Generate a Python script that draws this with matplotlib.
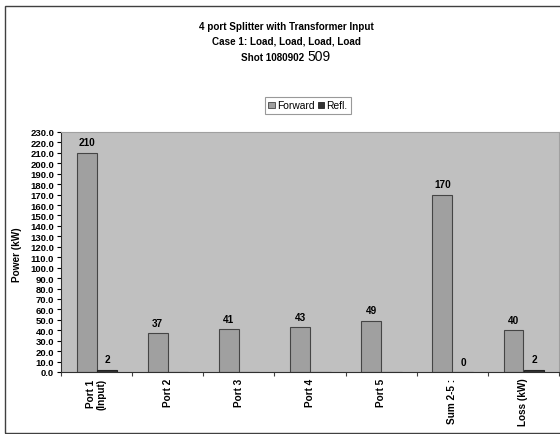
import numpy as np
import matplotlib
matplotlib.use("Agg")
import matplotlib.pyplot as plt
from matplotlib.patches import Rectangle, Patch

plt.rcParams['font.family'] = ['Liberation Sans', 'DejaVu Sans']

categories = ["Port 1\n(Input)", "Port 2", "Port 3", "Port 4", "Port 5", "Sum 2-5 :", "Loss (kW)"]
forward = [210, 37, 41, 43, 49, 170, 40]
refl = [2, np.nan, np.nan, np.nan, np.nan, 0, 2]

W, H = 560, 435
fig = plt.figure(figsize=(W / 100, H / 100), dpi=100)
fig.patch.set_facecolor("white")

# outer chart frame
fig.add_artist(Rectangle((5 / W, 1 / H), 1.2, 427 / H, transform=fig.transFigure,
                         fill=False, edgecolor="#404040", linewidth=1.0))

ax = fig.add_axes([61 / W, 1 - 373 / H, 498 / W, 240 / H])
ax.set_facecolor("#C0C0C0")

x = np.arange(len(categories))
w = 0.28
off_f, off_r = -0.14, 0.15
ax.bar(x + off_f, forward, width=w, color="#A0A0A0", edgecolor="#454545", linewidth=0.8,
       label="Forward", zorder=2)
ax.bar(x + off_r, np.nan_to_num(refl), width=w, color="#333333", edgecolor="#222222",
       linewidth=0.8, label="Refl.", zorder=2)

for xi, v in zip(x, forward):
    ax.annotate(f"{v:g}", (xi + off_f, v), xytext=(0, 7.5), textcoords="offset points",
                ha="center", va="center", fontsize=7.2, fontweight="bold")
for xi, v in zip(x, refl):
    if not np.isnan(v):
        ax.annotate(f"{v:g}", (xi + off_r, v), xytext=(0, 7.5), textcoords="offset points",
                    ha="center", va="center", fontsize=7.2, fontweight="bold")

ax.set_xlim(-0.5, len(categories) - 0.5)
ax.set_ylim(0, 230)
yt = np.arange(0, 231, 10)
ax.set_yticks(yt)
ax.set_yticklabels([f"{t:.1f}" for t in yt], fontsize=6.8, fontweight="bold")
ax.tick_params(axis="y", direction="out", length=3, width=0.8, pad=2)

ax.set_xticks(np.arange(-0.5, len(categories), 1.0))
ax.set_xticklabels([])
ax.tick_params(axis="x", which="major", direction="out", length=3, width=0.8, color="#404040")
ax.set_xticks(x, minor=True)
ax.set_xticklabels(categories, minor=True, rotation=90, fontsize=7.2, fontweight="bold",
                   va="top", ha="center", linespacing=1.1)
ax.tick_params(axis="x", which="minor", length=0, pad=4)

ax.set_ylabel("Power (kW)", fontsize=7.2, fontweight="bold")
ax.yaxis.set_label_coords(22 / W, 1 - 255 / H, transform=fig.transFigure)

for side in ("top", "right"):
    ax.spines[side].set_color("#A0A0A0")
for side in ("left", "bottom"):
    ax.spines[side].set_color("#303030")
    ax.spines[side].set_linewidth(0.8)

# titles
cx = 286 / W
fig.text(cx, 1 - 27 / H, "4 port Splitter with Transformer Input", ha="center", va="center",
         fontsize=7.1, fontweight="bold")
fig.text(cx, 1 - 42 / H, "Case 1: Load, Load, Load, Load", ha="center", va="center",
         fontsize=7.1, fontweight="bold")
fig.text(307 / W, 1 - 58 / H, "Shot 1080902 ", ha="right", va="center",
         fontsize=7.1, fontweight="bold")
fig.text(307 / W, 1 - 57 / H, "509", ha="left", va="center", fontsize=10)

handles = [Patch(facecolor="#A0A0A0", edgecolor="#454545", linewidth=0.6),
           Patch(facecolor="#333333", edgecolor="#222222", linewidth=0.6)]
leg = fig.legend(handles, ["Forward", "Refl."], loc="center",
                 bbox_to_anchor=(308 / W, 1 - 106.5 / H),
                 ncol=2, fontsize=7.4, frameon=True, fancybox=False, handlelength=0.6,
                 handleheight=0.6, handletextpad=0.25, columnspacing=0.3, borderpad=0.35,
                 borderaxespad=0, edgecolor="#808080")
leg.get_frame().set_linewidth(0.8)

fig.savefig("out.png", dpi=100)
